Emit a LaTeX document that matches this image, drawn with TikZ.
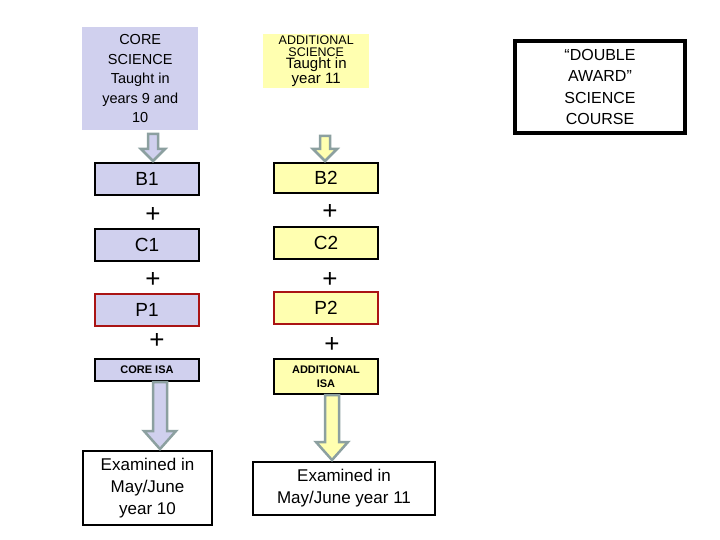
\documentclass[tikz,border=0pt]{standalone}
\usepackage{fontspec}
\setmainfont{Liberation Sans}
\definecolor{lav}{RGB}{208,208,238}
\definecolor{lyel}{RGB}{255,255,176}
\definecolor{agray}{RGB}{140,160,160}
\definecolor{dred}{RGB}{170,20,20}
\newcommand\fatarrow[7]{%
  \filldraw[fill=#7,draw=agray,line width=2.5pt,line join=miter]
  (#1-#4,-#2)--(#1+#4,-#2)--(#1+#4,-#3+#6)--(#1+#5,-#3+#6)--(#1,-#3)--(#1-#5,-#3+#6)--(#1-#4,-#3+#6)--cycle;}
\newcommand\smf{\fontsize{12.5}{16}\selectfont}
\newcommand\mdf{\fontsize{15}{20}\selectfont}
\begin{document}
\begin{tikzpicture}[x=1pt,y=1pt,
  box/.style={draw=black,line width=2pt,minimum width=104pt,minimum height=32pt,inner sep=1pt,font=\fontsize{19}{21}\selectfont,anchor=north west},
  lbox/.style={box,fill=lav},
  ybox/.style={box,fill=lyel},
  plus/.style={font=\fontsize{26}{26}\selectfont}]
\useasboundingbox[fill=white] (0,0) rectangle (720,-540);
\node[fill=lav,minimum width=116pt,minimum height=103pt,anchor=north west,align=center,font=\fontsize{14.5}{19.5}\selectfont] (core) at (82,-27) {CORE\\SCIENCE\\Taught in\\years 9 and\\10};
\node[fill=lyel,minimum width=106pt,minimum height=54pt,anchor=north west,align=center,inner sep=1pt] (add) at (263,-34) {\smf ADDITIONAL\\\smf SCIENCE\\\mdf Taught in\\\mdf year 11};
\node[draw=black,line width=4pt,minimum width=170pt,minimum height=92pt,anchor=north west,align=center,font=\fontsize{16}{21.5}\selectfont] (dbl) at (513,-39) {“DOUBLE\\AWARD”\\SCIENCE\\COURSE};
\node[lbox] (b1) at (94,-162) {B1};
\node[ybox,minimum height=30pt] (b2) at (273,-162) {B2};
\node[lbox] (c1) at (94,-228) {C1};
\node[ybox] (c2) at (273,-226) {C2};
\node[lbox,draw=dred] (p1) at (94,-293) {P1};
\node[ybox,draw=dred] (p2) at (273,-291) {P2};
\node[lbox,minimum height=22pt,font=\bfseries\fontsize{11}{13}\selectfont] (isa1) at (94,-358) {CORE ISA};
\node[ybox,minimum height=35pt,align=center,font=\bfseries\fontsize{11}{14}\selectfont] (isa2) at (273,-358) {ADDITIONAL\\ISA};
\node[box,minimum width=129pt,minimum height=74pt,align=center,font=\fontsize{17}{22}\selectfont] (ex1) at (82,-450) {Examined in\\May/June\\year 10};
\node[box,minimum width=182pt,minimum height=53pt,align=center,font=\fontsize{17}{22}\selectfont] (ex2) at (252,-461) {Examined in\\May/June year 11};
\node[plus] (pl1) at (153,-215) {+};
\node[plus] (pl2) at (153,-280) {+};
\node[plus] (pl3) at (157,-341) {+};
\node[plus] (pr1) at (330,-212) {+};
\node[plus] (pr2) at (330,-280) {+};
\node[plus] (pr3) at (332,-345) {+};
\fatarrow{153}{134}{161}{5}{12}{12}{lav}
\fatarrow{325}{136}{161}{5}{12}{12}{lyel}
\fatarrow{160}{382}{449}{7}{16}{18}{lav}
\fatarrow{332}{395}{460}{7}{16}{18}{lyel}
\end{tikzpicture}
\end{document}
